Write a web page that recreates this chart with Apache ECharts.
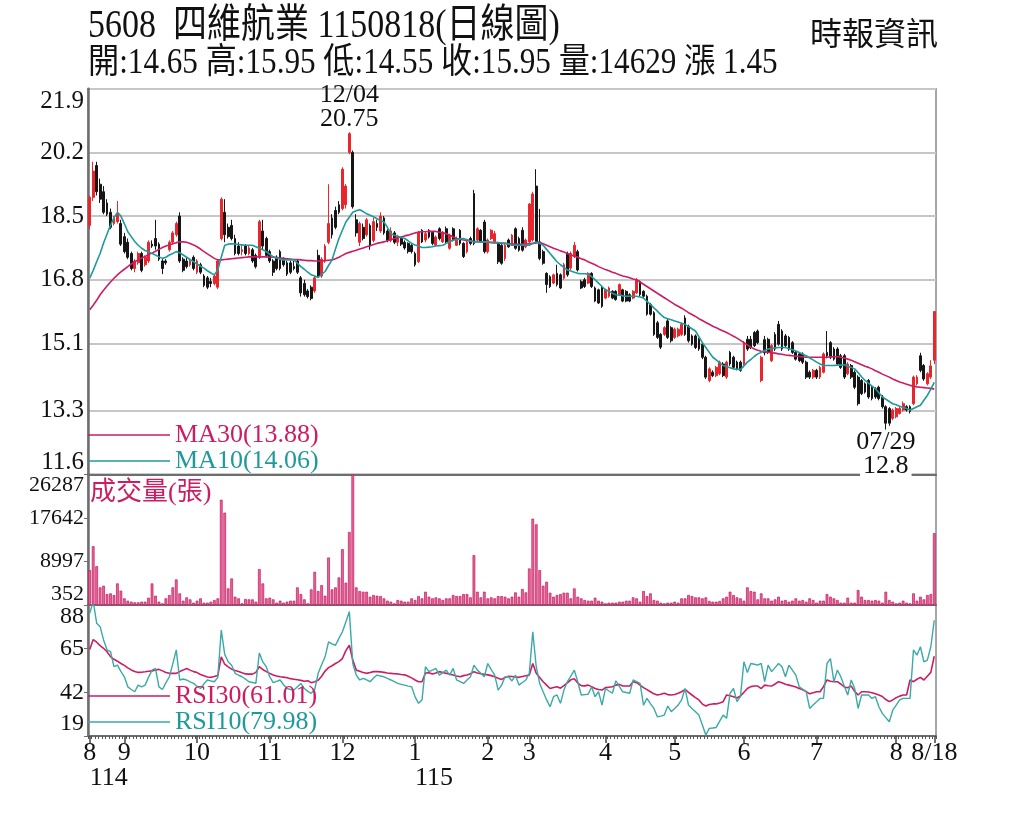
<!DOCTYPE html>
<html>
<head>
<meta charset="utf-8">
<title>5608 四維航業 日線圖</title>
<script src="https://cdn.jsdelivr.net/npm/echarts@6/dist/echarts.min.js"></script>
<style>
  html, body { margin: 0; padding: 0; background: #fff; }
  #main { width: 1024px; height: 819px; }
</style>
</head>
<body>
<div id="main"></div>
<script>
// stock header
var stockCode = '5608';
var stockName = '四維航業';
var chartDate = '1150818';
var lastDate = '8/18';

// [ROC year, month, trading days shown]
var monthDays = [
  ['114', 8, 10], ['114', 9, 21], ['114', 10, 21], ['114', 11, 21], ['114', 12, 21],
  ['115', 1, 21], ['115', 2, 12], ['115', 3, 22], ['115', 4, 20], ['115', 5, 20],
  ['115', 6, 21], ['115', 7, 23], ['115', 8, 12]
];

// [open, close, low, high]
var ohlc = [
  [18.25,19.0,18.15,19.05],[19.0,19.7,18.9,19.95],[19.85,19.15,19.05,19.95],[19.35,18.95,18.85,19.5],[19.15,18.6,18.55,19.3],
  [18.85,18.55,18.5,18.95],[18.6,18.2,18.15,18.7],[18.3,18.45,18.25,18.5],[18.35,18.55,18.3,18.9],[18.3,17.75,17.7,18.4],
  [17.95,17.55,17.5,18.05],[17.8,17.4,17.35,17.9],[17.5,17.1,17.05,17.55],[17.1,17.3,17.0,17.35],[17.25,17.5,17.2,17.55],
  [17.5,17.05,17.0,17.55],[17.2,17.4,17.15,17.45],[17.3,17.8,17.25,17.85],[17.75,17.7,17.65,17.85],[17.9,17.7,17.6,18.4],
  [17.75,17.35,17.3,17.8],[17.3,17.1,16.95,17.35],[17.3,17.25,17.2,17.35],[17.6,17.8,17.55,17.85],[17.8,18.05,17.75,18.1],
  [18.0,18.3,17.95,18.35],[18.5,17.3,17.25,18.6],[17.35,17.05,17.0,17.4],[17.3,17.15,17.1,17.4],[17.2,17.3,17.15,17.35],
  [17.4,17.1,17.05,17.45],[17.0,17.3,16.95,17.35],[17.2,17.0,16.95,17.25],[16.9,16.65,16.6,16.95],[16.85,16.6,16.55,16.9],
  [16.75,16.7,16.6,16.85],[16.7,16.9,16.65,16.95],[16.6,17.3,16.55,17.35],[17.9,18.95,17.85,19.0],[18.6,18.0,17.8,18.95],
  [18.2,17.95,17.9,18.3],[18.25,17.9,17.85,18.4],[17.9,17.5,17.45,18.0],[17.7,17.5,17.45,17.8],[17.55,17.6,17.45,17.75],
  [17.7,17.5,17.45,17.75],[17.5,17.65,17.45,17.7],[17.6,17.3,17.25,17.65],[17.45,17.15,17.1,17.5],[17.4,18.35,17.35,18.4],
  [18.1,17.7,17.6,18.4],[17.9,17.45,17.4,17.95],[17.55,17.3,17.25,17.6],[17.3,17.0,16.9,17.35],[17.4,17.1,17.05,17.45],
  [17.55,17.1,17.05,17.6],[17.35,17.2,17.15,17.4],[17.25,16.95,16.9,17.3],[17.25,17.0,16.95,17.3],[17.15,17.1,17.05,17.3],
  [17.3,17.0,16.95,17.35],[16.85,16.45,16.35,16.9],[16.7,16.4,16.35,16.8],[16.5,16.35,16.3,16.55],[16.6,16.3,16.25,16.65],
  [16.5,16.85,16.45,16.9],[17.45,16.9,16.85,17.6],[16.9,17.35,16.85,17.4],[17.3,17.7,17.25,17.75],[17.8,18.3,17.75,19.35],
  [18.45,18.0,17.9,18.55],[18.65,18.2,18.15,18.75],[18.8,18.6,18.55,18.9],[18.7,19.75,18.65,19.8],[18.8,19.3,18.7,19.35],
  [20.2,20.7,20.15,20.75],[20.2,18.75,18.7,20.25],[18.4,18.05,17.95,18.55],[17.8,18.3,17.7,18.35],[18.2,17.9,17.85,18.3],
  [18.0,18.4,17.95,18.45],[18.25,17.7,17.6,18.3],[17.85,18.35,17.8,18.45],[18.3,18.2,18.1,18.4],[18.1,18.5,18.05,18.6],
  [18.45,18.05,18.0,18.5],[18.1,17.85,17.8,18.15],[17.85,18.1,17.8,18.2],[18.05,17.8,17.75,18.1],[17.8,17.95,17.7,18.0],
  [17.9,17.75,17.7,17.95],[17.8,17.65,17.6,17.85],[17.77,17.55,17.5,17.8],[17.72,17.55,17.5,17.75],[17.5,17.2,17.15,17.55],
  [17.28,18.07,17.25,18.1],[18.12,17.81,17.78,18.15],[17.86,18.03,17.8,18.1],[18.12,17.94,17.9,18.15],[18.07,17.77,17.72,18.1],
  [17.72,17.94,17.7,17.98],[18.16,17.9,17.85,18.2],[17.81,18.07,17.78,18.1],[18.16,17.81,17.78,18.22],[17.64,17.99,17.6,18.03],
  [18.16,17.86,17.82,18.2],[17.72,17.9,17.7,17.95],[18.12,17.77,17.72,18.15],[17.77,17.42,17.38,17.8],[17.55,17.81,17.5,17.85],
  [17.9,17.77,17.72,17.95],[19.1,17.77,17.72,19.2],[17.86,18.16,17.82,18.2],[18.12,17.81,17.78,18.15],[18.34,17.55,17.5,18.4],
  [17.55,17.86,17.5,17.9],[17.9,18.12,17.86,18.15],[17.81,18.03,17.78,18.1],[17.77,17.28,17.22,17.8],[17.72,17.24,17.2,17.75],
  [17.37,17.72,17.3,17.75],[17.86,17.68,17.65,17.9],[17.77,17.99,17.74,18.02],[18.16,17.64,17.6,18.2],[17.9,17.59,17.55,17.95],
  [18.12,17.59,17.55,18.2],[17.68,17.86,17.64,17.9],[17.81,18.82,17.78,18.85],[17.86,19.09,17.82,19.15],[19.3,17.81,17.76,19.75],
  [17.81,17.37,17.32,18.69],[17.55,17.24,17.2,17.6],[16.97,16.67,16.45,17.0],[16.88,16.62,16.58,16.92],[16.71,16.93,16.68,16.96],
  [16.97,16.67,16.62,17.2],[16.93,16.58,16.55,16.97],[16.84,17.2,16.8,17.25],[17.5,16.93,16.88,17.55],[17.11,17.5,17.06,17.55],
  [17.42,17.72,17.38,17.81],[17.55,17.06,17.02,17.6],[16.75,16.58,16.55,16.8],[16.8,16.62,16.58,16.85],[16.71,16.97,16.68,17.0],
  [16.97,16.62,16.58,17.0],[16.58,16.23,16.2,16.62],[16.53,16.18,16.15,16.56],[16.58,16.09,16.05,16.62],[16.31,16.53,16.28,16.56],
  [16.36,16.58,16.32,16.62],[16.49,16.31,16.28,16.52],[16.49,16.27,16.24,16.52],[16.4,16.67,16.36,16.7],[16.53,16.23,16.2,16.56],
  [16.49,16.23,16.2,16.52],[16.4,16.23,16.2,16.44],[16.31,16.49,16.28,16.52],[16.45,16.8,16.42,16.84],[16.75,16.4,16.36,16.78],
  [16.49,16.36,16.3,16.52],[16.36,15.88,15.84,16.4],[16.14,15.88,15.84,16.18],[15.92,15.34,15.3,15.96],[15.65,15.26,15.22,15.7],
  [15.34,15.0,14.95,15.38],[15.34,15.52,15.3,15.56],[15.7,15.26,15.22,15.75],[15.52,15.17,15.12,15.56],[15.26,15.48,15.22,15.52],
  [15.3,15.48,15.26,15.52],[15.34,15.61,15.3,15.65],[15.78,15.34,15.3,15.85],[15.56,15.17,15.12,15.6],[15.3,15.08,15.04,15.34],
  [15.3,14.99,14.95,15.34],[15.21,14.95,14.9,15.25],[15.08,14.73,14.68,15.12],[14.73,14.2,14.15,14.77],[14.11,14.42,14.06,14.46],
  [14.33,14.24,14.2,14.38],[14.24,14.46,14.2,14.5],[14.29,14.6,14.25,14.64],[14.55,14.24,14.2,14.6],[14.2,14.6,14.15,14.64],
  [14.86,14.55,14.5,14.9],[14.73,14.46,14.42,14.77],[14.6,14.42,14.38,14.64],[14.6,14.38,14.34,14.64],[14.51,15.12,14.46,15.16],
  [15.21,14.95,14.9,15.3],[15.21,14.99,14.95,15.3],[15.39,15.04,15.0,15.43],[15.43,15.12,15.08,15.47],[14.11,14.73,14.06,14.77],
  [15.2,14.85,14.78,15.3],[15.21,14.86,14.82,15.25],[14.64,15.04,14.6,15.08],[15.34,14.95,14.9,15.4],[15.61,15.08,15.04,15.7],
  [15.43,14.95,14.9,15.48],[15.3,15.04,15.0,15.35],[15.26,14.95,14.9,15.3],[15.12,14.86,14.82,15.16],[14.86,14.68,14.64,14.9],
  [14.82,14.64,14.6,14.86],[14.82,14.6,14.55,14.86],[14.6,14.2,14.15,14.64],[14.33,14.2,14.15,14.38],[14.2,14.38,14.15,14.42],
  [14.38,14.2,14.15,14.42],[14.2,14.46,14.15,14.5],[14.33,14.82,14.3,14.86],[14.86,14.77,14.7,15.43],[15.12,14.73,14.68,15.16],
  [14.95,14.68,14.64,15.0],[14.95,14.55,14.5,15.0],[14.77,14.46,14.42,14.82],[14.77,14.2,14.15,14.82],[14.29,14.55,14.25,14.6],
  [14.51,14.2,14.15,14.55],[14.33,13.93,13.88,14.38],[14.2,13.49,13.44,14.25],[14.11,13.76,13.72,14.15],[14.02,13.8,13.76,14.06],
  [14.11,13.67,13.62,14.15],[13.93,13.63,13.58,13.97],[13.89,13.67,13.62,13.93],[13.93,13.63,13.58,13.97],[13.67,13.41,13.36,13.72],
  [13.41,12.97,12.8,13.45],[13.36,12.97,12.9,13.4],[13.1,13.32,13.05,13.36],[13.14,13.36,13.1,13.4],[13.23,13.36,13.2,13.4],
  [13.32,13.49,13.28,13.55],[13.41,13.32,13.28,13.45],[13.41,13.28,13.23,13.45],[13.49,14.2,13.45,14.24],[14.02,14.2,13.98,14.25],
  [14.77,14.38,14.33,14.85],[14.51,14.15,14.1,14.55],[14.02,14.29,13.98,14.33],[14.2,14.5,14.15,14.65],[14.65,15.95,14.55,15.95]
];

// shares (張)
var volume = [
  7282,12034,8074,3850,4180,2530,2660,2330,4642,3190,
  1672,1210,1012,880,880,1012,1012,1804,4642,2200,
  1012,682,1672,2332,3850,5434,2660,1210,1870,1474,
  814,1210,1672,814,814,1012,1342,1672,21274,18700,
  3652,5632,2000,1672,682,1540,1474,1474,1012,7480,
  4642,1672,1804,1474,814,1210,814,1012,1210,1210,
  3850,2530,1474,682,3454,6952,3124,4312,2200,9790,
  3454,3850,5830,11440,4774,14872,26287,3850,3124,2992,
  2992,2002,2332,2200,2134,1672,1210,1012,682,1342,
  1210,1012,1012,1672,1342,2134,1672,2992,2002,1672,
  1870,1672,1342,1672,1672,2332,2134,2134,2530,2530,
  1870,10252,2992,1870,2992,1672,1870,1672,2134,2134,
  2002,1672,2002,2860,2002,3520,2860,7612,17512,16390,
  7282,4180,4972,2794,2002,2332,2530,2794,2794,1672,
  3652,2002,1672,1342,1210,1210,1804,1210,1012,682,
  814,814,814,1012,1012,1210,1210,1870,1672,1012,
  3124,2134,2662,1342,1210,814,682,814,814,1012,
  814,1672,1672,2332,2134,1870,1870,1672,1870,1144,
  1012,1012,1144,1672,2002,2992,2332,1870,1672,1210,
  3850,3124,2992,1474,2662,1672,1672,1210,1474,2002,
  1210,1342,1012,1210,1672,1210,1342,1012,1672,1342,
  814,1210,1210,2530,2002,1672,1342,814,814,1804,
  814,814,3322,2002,1342,1342,1210,1342,1210,814,
  2992,1342,1012,682,814,1210,814,682,2662,1210,
  2002,1474,2332,2530,14629
];

var ma10 = [
  16.84,17.05,17.28,17.5,17.78,18.02,18.25,18.45,18.6,18.5,
  18.3,18.08,17.95,17.82,17.72,17.64,17.58,17.54,17.5,17.46,
  17.41,17.37,17.4,17.46,17.5,17.55,17.52,17.46,17.4,17.34,
  17.28,17.22,17.16,17.11,17.04,16.98,16.93,17.06,17.4,17.72,
  17.75,17.76,17.75,17.74,17.73,17.72,17.72,17.72,17.68,17.64,
  17.6,17.55,17.48,17.41,17.38,17.35,17.33,17.33,17.33,17.33,
  17.24,17.15,17.08,17.0,16.93,16.9,16.86,16.94,17.02,17.18,
  17.33,17.62,17.9,18.12,18.34,18.47,18.6,18.64,18.67,18.62,
  18.56,18.52,18.48,18.43,18.38,18.34,18.2,18.03,17.99,17.96,
  17.93,17.9,17.84,17.77,17.73,17.7,17.66,17.66,17.67,17.68,
  17.7,17.71,17.72,17.77,17.82,17.86,17.87,17.89,17.9,17.87,
  17.84,17.81,17.81,17.81,17.81,17.81,17.8,17.8,17.79,17.78,
  17.77,17.75,17.72,17.72,17.72,17.72,17.72,17.72,17.77,17.81,
  17.77,17.72,17.61,17.5,17.39,17.28,17.2,17.13,17.06,17.03,
  17.0,16.97,16.96,16.96,16.95,16.88,16.8,16.71,16.62,16.53,
  16.49,16.44,16.4,16.39,16.37,16.36,16.36,16.36,16.36,16.34,
  16.31,16.22,16.14,16.05,15.96,15.87,15.79,15.76,15.73,15.7,
  15.67,15.64,15.61,15.55,15.49,15.43,15.28,15.12,14.99,14.86,
  14.73,14.66,14.58,14.51,14.48,14.45,14.42,14.41,14.4,14.5,
  14.6,14.67,14.75,14.82,14.86,14.91,14.95,14.96,14.98,14.99,
  14.99,14.99,14.96,14.93,14.9,14.86,14.81,14.77,14.71,14.66,
  14.6,14.55,14.51,14.51,14.51,14.51,14.52,14.52,14.53,14.49,
  14.46,14.42,14.32,14.21,14.11,14.04,13.96,13.89,13.78,13.67,
  13.61,13.55,13.49,13.46,13.42,13.39,13.36,13.32,13.36,13.41,
  13.45,13.58,13.71,13.88,14.06
];

var ma30 = [
  16.0,16.12,16.25,16.4,16.52,16.63,16.74,16.84,16.93,17.01,
  17.08,17.15,17.22,17.28,17.33,17.38,17.42,17.47,17.51,17.56,
  17.61,17.66,17.7,17.73,17.76,17.79,17.81,17.81,17.8,17.77,
  17.73,17.68,17.62,17.55,17.49,17.43,17.37,17.33,17.33,17.34,
  17.35,17.36,17.37,17.38,17.39,17.4,17.41,17.41,17.41,17.41,
  17.41,17.41,17.4,17.4,17.39,17.38,17.37,17.36,17.35,17.34,
  17.34,17.33,17.32,17.31,17.31,17.3,17.3,17.3,17.31,17.32,
  17.33,17.36,17.4,17.45,17.5,17.53,17.56,17.59,17.62,17.65,
  17.68,17.71,17.74,17.77,17.79,17.81,17.84,17.87,17.9,17.92,
  17.94,17.97,17.99,18.02,18.05,18.07,18.08,18.08,18.09,18.09,
  18.09,18.07,18.05,18.03,17.99,17.94,17.9,17.88,17.86,17.85,
  17.83,17.82,17.82,17.81,17.8,17.8,17.79,17.78,17.78,17.77,
  17.77,17.76,17.75,17.75,17.74,17.75,17.75,17.76,17.77,17.78,
  17.8,17.76,17.72,17.68,17.64,17.61,17.57,17.54,17.5,17.46,
  17.43,17.4,17.36,17.33,17.28,17.24,17.2,17.15,17.11,17.07,
  17.04,17.0,16.97,16.93,16.9,16.88,16.85,16.82,16.8,16.74,
  16.68,16.62,16.56,16.5,16.44,16.38,16.32,16.26,16.2,16.14,
  16.09,16.04,15.98,15.92,15.87,15.82,15.76,15.71,15.66,15.61,
  15.56,15.52,15.47,15.43,15.39,15.34,15.29,15.24,15.18,15.12,
  15.06,15.0,14.95,14.92,14.89,14.88,14.86,14.85,14.84,14.82,
  14.81,14.79,14.78,14.77,14.76,14.75,14.74,14.73,14.73,14.73,
  14.73,14.73,14.73,14.73,14.74,14.74,14.75,14.73,14.71,14.68,
  14.65,14.61,14.57,14.53,14.49,14.46,14.42,14.37,14.33,14.28,
  14.24,14.2,14.15,14.11,14.07,14.04,14.01,13.98,13.96,13.94,
  13.93,13.92,13.91,13.9,13.88
];

var rsi10 = [
  83.6,90.0,78.4,76.6,69.6,64.4,63.5,55.5,56.3,53.0,
  50.2,44.9,43.5,42.3,45.8,44.9,45.8,50.0,53.7,54.6,
  44.9,43.5,47.0,50.2,57.0,64.4,48.5,49.0,48.5,47.5,
  46.7,45.2,44.0,46.5,48.5,48.0,47.6,49.9,74.8,62.0,
  58.1,56.3,52.0,51.0,50.2,49.0,47.6,47.2,46.7,62.7,
  58.0,55.5,50.2,47.1,47.8,48.5,46.0,44.0,43.5,43.2,
  45.0,46.7,44.0,42.5,41.5,43.5,52.0,56.5,60.7,68.6,
  67.5,66.8,70.4,73.9,79.0,84.5,57.2,51.1,48.5,49.4,
  48.5,47.6,49.5,51.1,50.6,50.2,49.3,48.5,47.6,46.7,
  46.2,45.8,45.3,44.9,39.6,36.2,38.0,55.5,52.9,53.7,
  54.6,51.1,52.4,53.7,51.1,54.6,48.5,47.6,46.7,48.5,
  50.2,56.3,53.7,52.0,50.2,57.2,54.0,51.1,43.2,45.8,
  50.2,50.2,48.0,51.1,45.8,47.2,48.5,52.0,73.9,55.5,
  46.7,42.3,38.0,34.4,39.7,40.6,36.2,43.2,47.6,50.5,
  53.7,47.6,40.6,40.8,41.0,44.9,39.7,42.3,35.3,44.0,
  42.7,41.5,48.1,45.2,42.3,41.9,41.5,48.5,47.6,46.7,
  35.3,38.8,36.1,33.5,29.1,29.5,30.0,34.8,31.8,33.5,
  35.3,38.0,44.0,35.3,33.5,31.8,30.0,24.8,19.5,23.0,
  23.2,23.5,26.8,30.0,28.3,41.5,44.0,37.1,39.7,58.1,
  52.4,57.2,56.8,56.3,57.2,47.6,56.3,52.9,55.0,57.2,
  55.5,50.2,56.3,53.7,51.1,44.9,43.6,42.3,33.5,35.3,
  37.0,38.8,38.8,57.2,59.8,47.6,53.7,50.2,45.4,40.6,
  48.5,44.0,33.5,40.6,40.6,40.6,38.8,39.7,34.4,30.9,
  28.7,26.5,32.6,35.3,38.0,38.8,38.8,38.8,64.4,61.6,
  66.0,58.1,59.0,66.0,79.98
];

var rsi30 = [
  64.6,69.8,68.4,66.6,65.2,63.4,60.8,59.4,58.4,57.2,
  56.2,54.9,53.8,53.0,52.5,52.6,52.8,53.1,53.3,53.8,
  54.1,53.3,52.5,52.0,52.0,52.0,53.0,53.7,54.6,53.7,
  52.9,52.4,51.4,50.7,50.1,49.9,50.3,50.9,60.7,56.8,
  55.4,54.2,53.5,53.0,52.3,51.7,51.6,51.6,52.5,55.5,
  54.0,52.9,52.0,51.1,50.6,50.2,50.0,49.7,49.2,48.9,
  48.6,48.3,47.8,48.1,47.1,47.6,48.4,50.5,53.2,55.0,
  56.0,57.2,58.2,59.8,64.0,66.8,59.0,53.7,53.1,52.5,
  52.0,52.4,52.9,52.9,52.8,52.5,52.2,52.0,51.8,51.7,
  51.4,51.2,50.5,49.6,48.5,47.6,47.6,52.2,52.3,51.6,
  52.2,52.9,52.4,52.0,51.5,51.1,50.6,50.2,50.8,51.1,
  51.8,52.9,52.2,51.8,51.5,51.2,50.8,50.2,49.4,48.8,
  49.8,50.5,50.3,50.1,49.9,50.3,50.7,51.1,57.2,52.0,
  49.8,47.6,45.8,44.0,44.5,44.9,44.2,45.5,47.0,48.6,
  49.2,46.9,45.5,45.4,45.8,45.0,44.0,43.5,43.2,44.5,
  44.7,44.9,45.8,46.2,45.3,45.3,45.3,47.6,47.1,45.8,
  44.5,43.4,42.3,41.2,40.6,41.0,41.5,40.8,40.6,40.9,
  41.5,42.3,43.5,42.0,40.6,39.2,38.0,35.8,34.8,35.6,
  35.9,35.9,36.4,37.1,40.6,40.2,39.7,39.0,40.1,42.0,
  44.0,45.0,45.3,45.3,44.0,45.8,45.5,45.3,46.4,47.6,
  47.0,46.3,45.8,45.3,44.8,44.0,43.4,42.4,41.2,41.8,
  42.3,42.3,45.0,48.5,47.8,47.6,47.6,46.4,44.8,44.4,
  45.3,42.5,40.6,42.3,42.3,42.2,41.8,41.2,40.6,39.8,
  38.2,37.1,38.0,39.2,40.0,40.6,40.6,48.5,47.6,48.9,
  49.9,48.5,50.5,52.5,61.01
];

// axis tick labels
var priceTicks = [11.6, 13.3, 15.1, 16.8, 18.5, 20.2, 21.9];
var volumeTicks = [352, 8997, 17642, 26287];
var rsiTicks = [19, 42, 65, 88];

// [day index, date text, which extreme]
var notes = [[75, '12/04', 'high'], [230, '07/29', 'low']];

// ---- derived from the tables above ----
var categories = [];
var monthLabel = {};
var yearLabel = {};
var prevYear = null;
monthDays.forEach(function (m) {
  monthLabel[categories.length] = String(m[1]);
  if (m[0] !== prevYear) { yearLabel[categories.length] = m[0]; prevYear = m[0]; }
  for (var k = 1; k <= m[2]; k++) categories.push(m[0] + '/' + m[1] + '#' + k);
});
var lastIdx = categories.length - 1;
monthLabel[lastIdx] = lastDate;

var last = ohlc[lastIdx];
var prevClose = ohlc[lastIdx - 1][1];
var headText = stockCode + '  ' + stockName + ' ' + chartDate + '(日線圖)';
var infoText = '開:' + last[0].toFixed(2) + ' 高:' + last[3].toFixed(2) + ' 低:' + last[2].toFixed(2) +
  ' 收:' + last[1].toFixed(2) + ' 量:' + volume[lastIdx] + ' 漲 ' + (last[1] - prevClose).toFixed(2);

var ma30Name = 'MA30(' + ma30[lastIdx].toFixed(2) + ')';
var ma10Name = 'MA10(' + ma10[lastIdx].toFixed(2) + ')';
var rsi30Name = 'RSI30(' + rsi30[lastIdx].toFixed(2) + ')';
var rsi10Name = 'RSI10(' + rsi10[lastIdx].toFixed(2) + ')';

var serif = '"Liberation Serif", "Noto Sans CJK TC", serif';
var upRed = '#e8262b';
var downBlack = '#161616';
var magenta = '#cc1d62';
var teal = '#1f9a9c';
var tealLight = '#3aa9a8';
var frame = '#6e6e6e';

var noteMarks = notes.map(function (n) {
  var isHigh = n[2] === 'high';
  var v = isHigh ? ohlc[n[0]][3] : ohlc[n[0]][2];
  return {
    coord: [categories[n[0]], v],
    label: {
      position: isHigh ? 'top' : 'bottom',
      distance: isHigh ? 0 : 0,
      formatter: '{d|' + n[1] + '}\n{v|' + v + '}'
    }
  };
});

function valueAxis(grid, min, max, ticks, fmt, size) {
  return {
    type: 'value', gridIndex: grid, min: min, max: max,
    axisLine: { show: true, lineStyle: { color: frame, width: 2.5 } },
    axisTick: { show: grid !== 0, length: 4, customValues: ticks, lineStyle: { color: frame } },
    axisLabel: {
      customValues: ticks, formatter: fmt, margin: 4, color: '#111',
      fontFamily: serif, fontSize: size,
      verticalAlignMinLabel: 'bottom', verticalAlignMaxLabel: 'top'
    },
    splitLine: grid === 0
      ? { show: true, customValues: ticks, lineStyle: { color: '#c6c6c6', width: 2 } }
      : { show: false }
  };
}

function plainXAxis(grid) {
  return {
    type: 'category', gridIndex: grid, data: categories, boundaryGap: true,
    axisLine: { show: true, onZero: false, lineStyle: { color: frame, width: 2 } },
    axisTick: { show: false }, axisLabel: { show: false }, splitLine: { show: false }
  };
}

var option = {
  animation: false,
  backgroundColor: '#fff',
  textStyle: { fontFamily: serif },
  // the header uses a tall, narrow face: scale the text horizontally
  graphic: [
    { type: 'text', x: 88, y: 7, scaleX: 0.85, silent: true,
      style: { text: headText, fill: '#111', font: '40px ' + serif, verticalAlign: 'top' } },
    { type: 'text', x: 88, y: 46, scaleX: 0.89, silent: true,
      style: { text: infoText, fill: '#111', font: '35px ' + serif, verticalAlign: 'top' } }
  ],
  title: [
    { text: '時報資訊', right: 86, top: 21, padding: 0,
      textStyle: { fontFamily: serif, fontSize: 32, fontWeight: 'normal', color: '#111' } },
    { text: '成交量(張)', left: 90, top: 480, padding: 0,
      textStyle: { fontFamily: serif, fontSize: 26, fontWeight: 'normal', color: magenta } }
  ],
  legend: [
    { left: 88, top: 422, orient: 'vertical', icon: 'rect', itemWidth: 82, itemHeight: 1.5,
      itemGap: 0, selectedMode: false, padding: 0,
      textStyle: { fontFamily: serif, fontSize: 26 },
      data: [{ name: ma30Name, textStyle: { color: magenta } }, { name: ma10Name, textStyle: { color: teal } }] },
    { left: 88, top: 683, orient: 'vertical', icon: 'rect', itemWidth: 82, itemHeight: 1.5,
      itemGap: 0, selectedMode: false, padding: 0,
      textStyle: { fontFamily: serif, fontSize: 26 },
      data: [{ name: rsi30Name, textStyle: { color: magenta } }, { name: rsi10Name, textStyle: { color: teal } }] }
  ],
  grid: [
    { left: 88, right: 88, top: 88.7, height: 385.8, show: true, borderColor: '#8a8a8a', borderWidth: 1.5, outerBoundsMode: 'none' },
    { left: 88, right: 88, top: 474.5, height: 130.5, show: true, borderColor: '#8a8a8a', borderWidth: 1.5, outerBoundsMode: 'none' },
    { left: 88, right: 88, top: 605, height: 131, show: true, borderColor: '#8a8a8a', borderWidth: 1.5, outerBoundsMode: 'none' }
  ],
  xAxis: [
    plainXAxis(0),
    plainXAxis(1),
    // daily ticks
    {
      type: 'category', gridIndex: 2, data: categories, boundaryGap: true, position: 'bottom',
      axisLine: { show: true, onZero: false, lineStyle: { color: frame, width: 2 } },
      axisTick: { show: true, interval: 0, length: 3, lineStyle: { color: '#555', width: 1 } },
      axisLabel: { show: false }, splitLine: { show: false }
    },
    // month ticks and labels
    {
      type: 'category', gridIndex: 2, data: categories, boundaryGap: true, position: 'bottom',
      axisLine: { show: false, onZero: false },
      axisTick: { show: true, alignWithLabel: true, length: 7, lineStyle: { color: '#444', width: 1.5 },
        interval: function (i) { return monthLabel[i] !== undefined; } },
      axisLabel: { show: true, margin: 4, fontSize: 26, color: '#111', fontFamily: serif,
        interval: function (i) { return monthLabel[i] !== undefined; },
        formatter: function (v, i) { return monthLabel[i] || ''; } },
      splitLine: { show: false }
    },
    // ROC year labels
    {
      type: 'category', gridIndex: 2, data: categories, boundaryGap: true, position: 'bottom',
      axisLine: { show: false, onZero: false }, axisTick: { show: false },
      axisLabel: { show: true, margin: 29, fontSize: 26, color: '#111', fontFamily: serif, align: 'left',
        interval: function (i) { return yearLabel[i] !== undefined; },
        formatter: function (v, i) { return yearLabel[i] || ''; } },
      splitLine: { show: false }
    }
  ],
  yAxis: [
    valueAxis(0, priceTicks[0], priceTicks[priceTicks.length - 1], priceTicks, function (v) { return v.toFixed(1); }, 25),
    valueAxis(1, volumeTicks[0], volumeTicks[volumeTicks.length - 1], volumeTicks, function (v) { return String(v); }, 22),
    valueAxis(2, rsiTicks[0], rsiTicks[rsiTicks.length - 1], rsiTicks, function (v) { return String(v); }, 24)
  ],
  series: [
    {
      type: 'candlestick', name: 'K', xAxisIndex: 0, yAxisIndex: 0, data: ohlc, barWidth: '66%', z: 3,
      itemStyle: { color: upRed, color0: downBlack, borderColor: upRed, borderColor0: downBlack, borderWidth: 1 },
      markPoint: {
        symbol: 'circle', symbolSize: 1, itemStyle: { color: 'rgba(0,0,0,0)' }, silent: true,
        label: {
          show: true, color: '#111',
          rich: {
            d: { fontFamily: serif, fontSize: 26, lineHeight: 24, color: '#111' },
            v: { fontFamily: serif, fontSize: 26, lineHeight: 24, color: '#111', backgroundColor: '#fff', padding: [0, 3] }
          }
        },
        data: noteMarks
      }
    },
    { type: 'line', name: ma30Name, xAxisIndex: 0, yAxisIndex: 0, data: ma30, showSymbol: false, z: 4,
      lineStyle: { color: magenta, width: 1.6 }, itemStyle: { color: magenta } },
    { type: 'line', name: ma10Name, xAxisIndex: 0, yAxisIndex: 0, data: ma10, showSymbol: false, z: 4,
      lineStyle: { color: teal, width: 1.6 }, itemStyle: { color: teal } },
    { type: 'bar', name: 'VOL', xAxisIndex: 1, yAxisIndex: 1, data: volume, barWidth: '78%',
      itemStyle: { color: '#e2689a', borderColor: '#c8165c', borderWidth: 0.7 } },
    { type: 'line', name: rsi30Name, xAxisIndex: 2, yAxisIndex: 2, data: rsi30, showSymbol: false,
      lineStyle: { color: magenta, width: 1.6 }, itemStyle: { color: magenta } },
    { type: 'line', name: rsi10Name, xAxisIndex: 2, yAxisIndex: 2, data: rsi10, showSymbol: false,
      lineStyle: { color: tealLight, width: 1.4 }, itemStyle: { color: tealLight } }
  ]
};

var chart = echarts.init(document.getElementById('main'));
chart.setOption(option);
</script>
</body>
</html>
